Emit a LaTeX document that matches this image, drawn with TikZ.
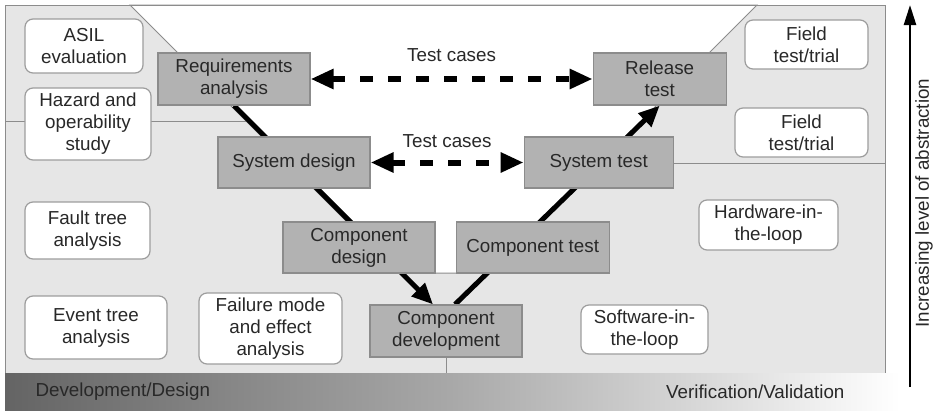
\documentclass[tikz,border=0pt]{standalone}
\usepackage{fontspec}
\setmainfont{Liberation Sans}
\usetikzlibrary{arrows.meta,positioning,calc,backgrounds}
\definecolor{vpanel}{RGB}{230,230,230}
\definecolor{vedge}{RGB}{140,140,140}
\definecolor{vstep}{RGB}{178,178,178}
\definecolor{vtext}{RGB}{40,40,40}
\definecolor{barA}{RGB}{100,100,100}
\definecolor{barB}{RGB}{168,168,168}

\begin{document}
\begin{tikzpicture}[x=1pt, y=-1pt,
  every node/.style={font=\fontsize{18.8}{22}\selectfont, text=vtext},
  stepbox/.style={draw=vedge, fill=vstep, line width=1.2pt, minimum height=52pt, align=center, inner sep=0pt},
  toolbox/.style={draw=vedge!85, fill=white, rounded corners=8pt, line width=1.2pt, align=center, inner sep=0pt},
  vline/.style={line width=5pt, -{Triangle[length=21pt,width=18pt]}},
  tcase/.style={line width=6pt, dash pattern=on 13pt off 15pt, {Triangle[length=23pt,width=19pt]}-{Triangle[length=23pt,width=19pt]}}]
  \useasboundingbox (0,0) rectangle (935,410);

  % V-model steps
  \node[stepbox, minimum width=152pt] (req) at (234,79) {Requirements\\analysis};
  \node[stepbox, minimum width=133pt, right=282pt of req] (rel) {Release\\test};
  \node[stepbox, minimum width=152pt, minimum height=51pt] (sysd) at (294,162.5) {System design};
  \node[stepbox, minimum width=149pt, minimum height=51pt, right=153pt of sysd] (syst) {System test};
  \node[stepbox, minimum width=152pt, minimum height=51pt] (cdes) at (359,247.5) {Component\\design};
  \node[stepbox, minimum width=153pt, minimum height=51pt, right=20pt of cdes] (ctest) {Component test};
  \node[stepbox, minimum width=152pt] (cdev) at (446,331) {Component\\development};

  % methods
  \node[toolbox, minimum width=118pt, minimum height=54pt] (asil) at (84,46) {ASIL\\evaluation};
  \node[toolbox, minimum width=126pt, minimum height=72pt] (hazop) at (88,124) {Hazard and\\operability\\study};
  \node[toolbox, minimum width=125pt, minimum height=57pt] (fta) at (87.5,230.5) {Fault tree\\analysis};
  \node[toolbox, minimum width=142pt, minimum height=63pt] (eta) at (96,327.5) {Event tree\\analysis};
  \node[toolbox, minimum width=143pt, minimum height=71pt] (fmea) at (270.5,328.5) {Failure mode\\and effect\\analysis};
  \node[toolbox, minimum width=123pt, minimum height=49pt] (field1) at (806.5,44.5) {Field\\test/trial};
  \node[toolbox, minimum width=133pt, minimum height=49pt] (field2) at (801.5,132.5) {Field\\test/trial};
  \node[toolbox, minimum width=139pt, minimum height=50pt] (hil) at (768.5,225) {Hardware-in-\\the-loop};
  \node[toolbox, minimum width=127pt, minimum height=49pt] (sil) at (644.5,329.5) {Software-in-\\the-loop};

  \node[anchor=west] (devl) at (32,392) {Development/Design};
  \node[anchor=east] (verl) at (848,392) {Verification/Validation};

  \begin{pgfonlayer}{background}
    \fill[vpanel] (5,5) rectangle (885,373);
    \filldraw[fill=white, draw=vedge, line width=1pt] (130,5) -- (757,5) -- (489,273) -- (398,273) -- cycle;
    \draw[vedge, line width=1pt] (5,5) rectangle (885,373);
    \draw[vedge, line width=1pt] (5,121) -- (246,121);
    \draw[vedge, line width=1pt] (599,163) -- (885,163);
    \draw[vedge, line width=1pt] (cdev.south) -- +(0,16);
    \shade[left color=barA, right color=barB] (5,373) rectangle (450,410);
    \shade[left color=barB, right color=white] (450,373) rectangle (900,410);
    % flow down and up the V
    \draw[vline] (req.south) -- ($(cdev.north)+(-13,0)$);
    \draw[vline] ($(cdev.north)+(9,0)$) -- (rel.south);
  \end{pgfonlayer}

  \draw[tcase] (req.east) -- node[midway, yshift=24pt]{Test cases} (rel.west);
  \draw[tcase] (sysd.east) -- node[midway, yshift=21pt]{Test cases} (syst.west);

  \coordinate (abot) at (910,387);
  \coordinate (atop) at (910,5);
  \draw[line width=2.5pt, -{Triangle[length=20pt,width=12pt]}] (abot) -- (atop);
  \node[rotate=90] (abst) at (924,203) {Increasing level of abstraction};
\end{tikzpicture}
\end{document}
